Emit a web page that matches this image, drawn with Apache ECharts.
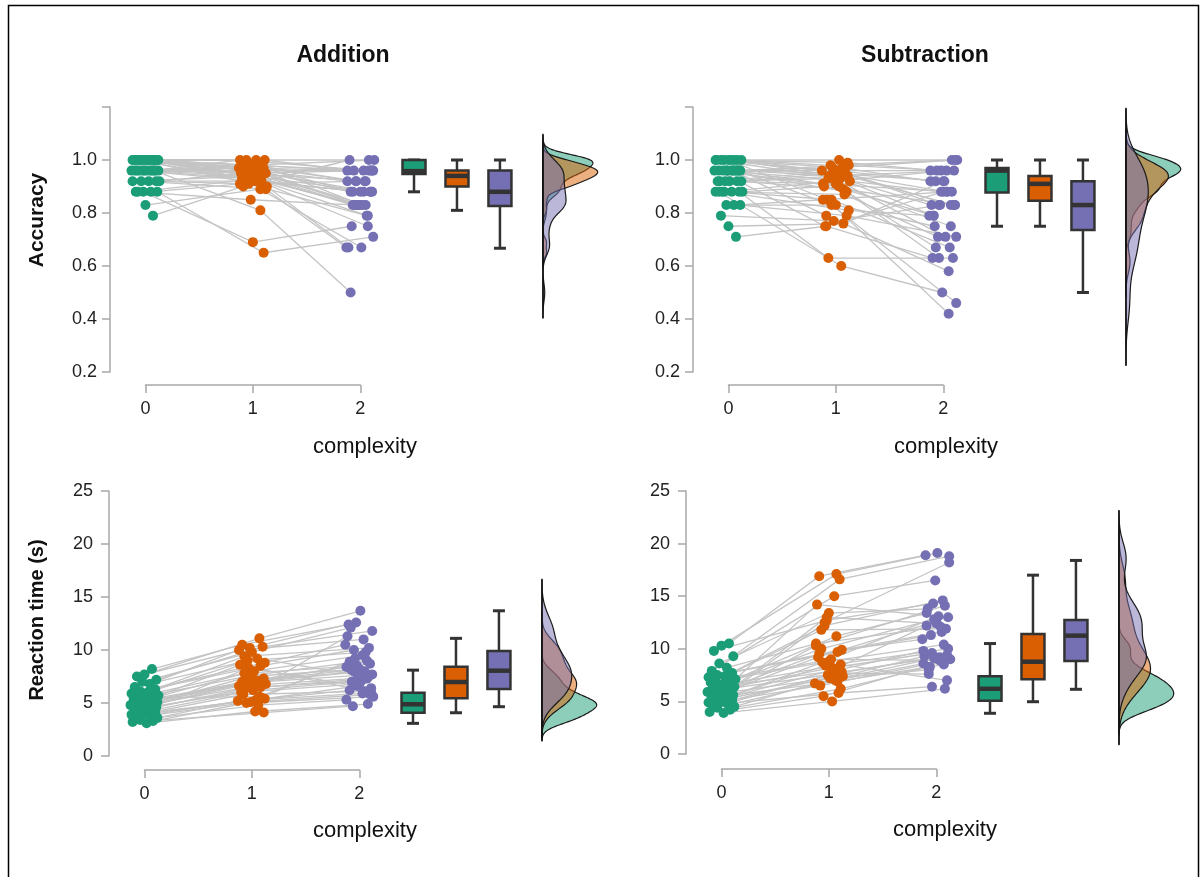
<!DOCTYPE html>
<html>
<head>
<meta charset="utf-8">
<script src="https://cdn.jsdelivr.net/npm/echarts@6/dist/echarts.min.js"></script>
<style>
  html, body { margin: 0; padding: 0; background: #fff; }
  #chart { width: 1202px; height: 877px; }
</style>
</head>
<body>
<div id="chart"></div>
<script>
const chart = echarts.init(document.getElementById('chart'));

const complexity = [0, 1, 2];
const colors = ['#1b9e77', '#d95f02', '#7570b3'];
const fills = ['rgba(27,158,119,0.5)', 'rgba(217,95,2,0.5)', 'rgba(117,112,179,0.5)'];
const boxPos = [2.5, 2.9, 3.3];
const densityBase = 3.7;
const densityWidth = 0.51;

// horizontal jitter of the dots, in x units
const jitter = [0.02, -0.11, 0.08, -0.04, 0.12, -0.07, 0.05, -0.12, 0.00, 0.10,
  -0.02, 0.07, -0.09, 0.03, 0.11, -0.05, 0.06, -0.13, 0.09, -0.01,
  0.04, -0.08, 0.12, -0.03, 0.01, -0.10, 0.08, -0.06, 0.13, -0.12,
  0.03, -0.04, 0.10, -0.09, 0.05, -0.02, 0.11, -0.07, 0.00, 0.07];

// Addition - accuracy (one entry per participant)
const addAcc0 = [1, 1, 1, 1, 1, 1, 1, 1, 1, 1, 1, 1, 1, 1, 1, 1,
  0.96, 0.96, 0.96, 0.96, 0.96, 0.96, 0.96, 0.96, 0.96, 0.96, 0.96, 0.96,
  0.92, 0.92, 0.92, 0.92, 0.92, 0.88, 0.88, 0.88, 0.88, 0.88, 0.83, 0.79];
const addAcc1 = [1.0, 1.0, 0.98, 0.98, 0.97, 0.97, 0.96, 0.96, 0.95, 0.95, 0.94, 0.94, 0.93, 0.92, 1.0, 0.90,
  1.0, 0.98, 0.98, 0.97, 0.97, 0.96, 0.96, 0.95, 0.94, 0.93, 0.81, 0.92,
  0.95, 0.94, 0.91, 0.89, 0.92, 0.93, 0.91, 0.69, 0.65, 0.85, 0.89, 0.90];
const addAcc2 = [1.0, 0.96, 1.0, 0.96, 0.96, 0.92, 0.96, 0.88, 0.92, 0.83, 0.88, 0.83, 0.88, 0.79, 0.83, 0.67,
  0.96, 0.92, 0.96, 0.88, 0.83, 0.92, 0.83, 0.88, 0.83, 0.75, 0.50, 0.88,
  0.96, 0.83, 0.79, 0.67, 0.88, 0.83, 0.92, 0.75, 0.71, 0.83, 0.67, 1.0];

// Subtraction - accuracy
const subAcc0 = [1, 1, 1, 1, 1, 1, 1, 1, 1,
  0.96, 0.96, 0.96, 0.96, 0.96, 0.96, 0.96, 0.96, 0.96, 0.96, 0.96, 0.96,
  0.92, 0.92, 0.92, 0.92, 0.92, 0.92, 0.88, 0.88, 0.88, 0.88, 0.88, 0.88, 0.88,
  0.83, 0.83, 0.83, 0.79, 0.75, 0.71];
const subAcc1 = [1.0, 0.99, 0.98, 0.97, 0.96, 0.95, 0.94, 0.93, 0.85,
  0.98, 0.97, 0.96, 0.75, 0.95, 0.94, 0.92, 0.91, 0.90, 0.83, 0.88, 0.79,
  0.96, 0.95, 0.94, 0.93, 0.91, 0.89, 0.92, 0.90, 0.87, 0.85, 0.81, 0.63, 0.60,
  0.85, 0.83, 0.79, 0.77, 0.76, 0.75];
const subAcc2 = [1.0, 0.96, 1.0, 0.92, 0.88, 0.83, 0.96, 0.79, 0.42,
  0.96, 1.0, 0.92, 0.88, 0.83, 0.71, 0.83, 0.88, 0.63, 0.46, 0.67, 0.58,
  0.96, 0.92, 0.83, 0.88, 0.75, 0.79, 0.96, 0.83, 0.71, 0.67, 0.79, 0.63, 0.50,
  0.88, 0.75, 0.71, 0.83, 0.92, 0.63];

// Addition - reaction time (s)
const addRt0 = [3.1, 3.2, 3.3, 3.4, 3.6, 3.7, 3.8, 3.9, 4.0, 4.1, 4.2, 4.3, 4.4, 4.5, 4.6, 4.7, 4.8, 4.8, 4.9, 4.9,
  5.0, 5.0, 5.1, 5.2, 5.3, 5.4, 5.5, 5.6, 5.7, 5.9, 6.0, 6.1, 6.3, 6.5, 6.8, 7.0, 7.2, 7.5, 7.7, 8.2];
const addRt1 = [4.2, 4.1, 5.0, 4.8, 5.2, 5.5, 5.1, 5.3, 5.8, 5.4, 8.3, 6.2, 6.0, 6.5, 6.4, 6.8, 6.6, 7.0, 6.9, 7.2,
  7.0, 7.1, 7.5, 7.3, 7.8, 7.6, 5.6, 8.0, 8.6, 8.5, 9.0, 8.8, 9.4, 9.2, 10.0, 9.8, 10.3, 10.2, 11.1, 10.5];
const addRt2 = [4.9, 4.7, 5.6, 5.3, 5.9, 9.2, 5.8, 6.2, 6.1, 6.6, 6.4, 7.0, 6.8, 7.3, 7.1, 11.3, 7.4, 7.9, 7.7, 8.1,
  8.0, 8.4, 8.2, 8.7, 8.5, 9.0, 8.9, 9.5, 6.0, 10.0, 9.8, 10.5, 10.2, 7.6, 11.0, 12.1, 11.8, 12.6, 13.7, 12.4];

// Subtraction - reaction time (s)
const subRt0 = [3.9, 4.0, 4.2, 4.4, 4.5, 4.7, 4.8, 4.9, 5.0, 5.1, 5.2, 5.3, 5.4, 5.5, 5.6, 5.7, 5.8, 5.9, 6.0, 6.1,
  6.2, 6.3, 6.4, 6.5, 6.6, 6.8, 6.9, 7.0, 7.1, 7.3, 7.4, 7.5, 7.7, 7.9, 8.2, 8.6, 9.3, 9.8, 10.3, 10.5];
const subRt1 = [5.0, 6.2, 5.5, 7.0, 6.7, 5.8, 7.5, 8.0, 6.5, 7.8, 8.4, 7.2, 9.2, 6.9, 8.7, 7.4, 10.3, 8.2, 12.5, 7.7,
  9.5, 7.9, 13.0, 8.5, 10.0, 8.8, 11.2, 9.0, 14.2, 9.7, 12.2, 9.9, 11.8, 15.0, 10.5, 13.4, 16.6, 12.7, 17.1, 16.9];
const subRt2 = [6.2, 8.3, 9.0, 8.6, 9.2, 6.4, 9.4, 12.2, 8.8, 9.1, 10.0, 8.0, 12.6, 8.5, 13.1, 9.3, 14.1, 9.6, 18.2, 7.6,
  11.6, 9.8, 12.4, 7.0, 12.8, 10.4, 13.4, 8.9, 13.0, 11.3, 14.6, 10.9, 11.9, 16.5, 12.1, 13.8, 18.8, 14.3, 19.1, 18.9];

// box plots: [lower whisker, Q1, median, Q3, upper whisker]
const addAccBox = [[0.88, 0.947, 0.958, 1.0, 1.0], [0.81, 0.90, 0.94, 0.96, 1.0], [0.667, 0.826, 0.88, 0.96, 1.0]];
const subAccBox = [[0.75, 0.877, 0.96, 0.97, 1.0], [0.75, 0.846, 0.91, 0.94, 1.0], [0.50, 0.736, 0.83, 0.92, 1.0]];
const addRtBox = [[3.08, 4.08, 4.88, 5.97, 8.1], [4.08, 5.44, 6.98, 8.42, 11.1], [4.65, 6.32, 8.05, 9.9, 13.7]];
const subRtBox = [[3.87, 5.07, 6.2, 7.4, 10.5], [4.97, 7.1, 8.77, 11.4, 17.0], [6.15, 8.84, 11.25, 12.74, 18.4]];

const panels = [
  { values: [addAcc0, addAcc1, addAcc2], box: addAccBox, left: 110, top: 107, height: 265, min: 0.2, max: 1.2, step: 0.2, axisY: 385, margin: 13 },
  { values: [subAcc0, subAcc1, subAcc2], box: subAccBox, left: 693, top: 107, height: 265, min: 0.2, max: 1.2, step: 0.2, axisY: 385, margin: 13 },
  { values: [addRt0, addRt1, addRt2], box: addRtBox, left: 109, top: 491, height: 265, min: 0, max: 25, step: 5, axisY: 770, margin: 16 },
  { values: [subRt0, subRt1, subRt2], box: subRtBox, left: 686, top: 491, height: 263, min: 0, max: 25, step: 5, axisY: 769, margin: 16 }
];

const xMin = -0.33, xMax = 4.25, gridWidth = 492;
const unit = gridWidth / (xMax - xMin);
const jit = (i, c) => jitter[(i + 13 * c) % jitter.length];

// kernel density like R's density(): gaussian kernel, bw.nrd0, cut = 3
function quantile(s, p) {
  const h = (s.length - 1) * p, lo = Math.floor(h);
  return s[lo] + (h - lo) * (s[Math.min(lo + 1, s.length - 1)] - s[lo]);
}
function kde(vals) {
  const s = vals.slice().sort((a, b) => a - b), n = s.length;
  const mean = s.reduce((a, b) => a + b, 0) / n;
  const sd = Math.sqrt(s.reduce((a, b) => a + (b - mean) * (b - mean), 0) / (n - 1));
  let lo = Math.min(sd, (quantile(s, 0.75) - quantile(s, 0.25)) / 1.34);
  if (!lo) lo = sd || 1;
  const bw = 0.9 * lo * Math.pow(n, -0.2);
  const from = s[0] - 3 * bw, to = s[n - 1] + 3 * bw, steps = 160;
  const pts = [];
  for (let k = 0; k <= steps; k++) {
    const t = from + (to - from) * k / steps;
    let d = 0;
    s.forEach(v => { const z = (t - v) / bw; d += Math.exp(-0.5 * z * z); });
    pts.push([t, d / (n * bw * Math.sqrt(2 * Math.PI))]);
  }
  return pts;
}

const axisGray = '#a8a8a8';
const fontFamily = 'Liberation Sans, Arial, sans-serif';
const labelStyle = { color: '#222', fontSize: 18, fontFamily };

const grid = [], xAxis = [], yAxis = [], series = [];

panels.forEach((p, k) => {
  const gi = 2 * k;
  grid.push({ left: p.left, top: p.top, width: gridWidth, height: p.height });
  grid.push({ left: p.left - xMin * unit, top: p.axisY - 1, width: 2 * unit, height: 1 });

  xAxis.push({ gridIndex: gi, type: 'value', min: xMin, max: xMax, show: false });
  xAxis.push({
    gridIndex: gi + 1, type: 'value', min: 0, max: 2, interval: 1,
    axisLine: { show: true, onZero: false, lineStyle: { color: axisGray, width: 1.5 } },
    axisTick: { show: true, length: 8, lineStyle: { color: axisGray, width: 1.5 } },
    axisLabel: Object.assign({ margin: 15 }, labelStyle),
    splitLine: { show: false }
  });
  yAxis.push({
    gridIndex: gi, type: 'value', min: p.min, max: p.max, interval: p.step,
    axisLine: { show: true, onZero: false, lineStyle: { color: axisGray, width: 1.5 } },
    axisTick: { show: true, length: 8, lineStyle: { color: axisGray, width: 1.5 } },
    axisLabel: Object.assign({
      margin: p.margin,
      formatter: v => (p.step < 1 ? (v > 1.1 ? '' : v.toFixed(1)) : String(v))
    }, labelStyle),
    splitLine: { show: false }
  });
  yAxis.push({ gridIndex: gi + 1, type: 'value', min: 0, max: 1, show: false });

  const n = p.values[0].length;

  // gray lines linking each participant across complexity levels
  const links = [];
  for (let i = 0; i < n; i++) {
    links.push({ coords: complexity.map(c => [c + jit(i, c), p.values[c][i]]) });
  }
  series.push({
    type: 'lines', coordinateSystem: 'cartesian2d', xAxisIndex: gi, yAxisIndex: gi,
    polyline: true, silent: true, z: 1, data: links,
    lineStyle: { color: '#c4c4c4', width: 1.3, opacity: 1 }
  });

  // dots
  complexity.forEach(c => {
    series.push({
      type: 'scatter', xAxisIndex: gi, yAxisIndex: gi, z: 3, symbolSize: 10,
      itemStyle: { color: colors[c], opacity: 1 },
      data: p.values[c].map((v, i) => [c + jit(i, c), v])
    });
  });

  // box plots
  series.push({
    type: 'custom', xAxisIndex: gi, yAxisIndex: gi, z: 2,
    encode: { x: 0, y: [1, 2, 3, 4, 5] },
    data: p.box.map((b, c) => [boxPos[c]].concat(b, [c])),
    renderItem: (params, api) => {
      const x = api.value(0);
      const py = v => api.coord([x, v])[1];
      const cx = api.coord([x, api.value(1)])[0];
      const yMin = py(api.value(1)), yQ1 = py(api.value(2)), yMed = py(api.value(3));
      const yQ3 = py(api.value(4)), yMax = py(api.value(5));
      const dark = '#333333', hw = 11.5, cw = 6;
      const seg = (x1, y1, x2, y2, w) => ({ type: 'line', shape: { x1, y1, x2, y2 }, style: { stroke: dark, lineWidth: w } });
      return {
        type: 'group', children: [
          seg(cx, yMin, cx, yQ1, 2.5), seg(cx, yQ3, cx, yMax, 2.5),
          seg(cx - cw, yMin, cx + cw, yMin, 3), seg(cx - cw, yMax, cx + cw, yMax, 3),
          { type: 'rect', shape: { x: cx - hw, y: yQ3, width: 2 * hw, height: yQ1 - yQ3 },
            style: { fill: colors[api.value(6)], stroke: dark, lineWidth: 2.5 } },
          seg(cx - hw, yMed, cx + hw, yMed, 4.5)
        ]
      };
    }
  });

  // densities
  const curves = p.values.map(kde);
  let maxD = 0, lowV = Infinity, highV = -Infinity;
  curves.forEach(cv => cv.forEach(([v, d]) => {
    maxD = Math.max(maxD, d); lowV = Math.min(lowV, v); highV = Math.max(highV, v);
  }));
  series.push({
    type: 'custom', xAxisIndex: gi, yAxisIndex: gi, z: 2,
    data: curves.map((cv, c) => [densityBase, p.min, c]),
    renderItem: (params, api) => {
      const cv = curves[params.dataIndex];
      const pts = [api.coord([densityBase, cv[0][0]])];
      cv.forEach(([v, d]) => pts.push(api.coord([densityBase + d / maxD * densityWidth, v])));
      pts.push(api.coord([densityBase, cv[cv.length - 1][0]]));
      return { type: 'polygon', shape: { points: pts }, style: { fill: fills[params.dataIndex], stroke: '#1a1a1a', lineWidth: 1.2 } };
    }
  });
  series.push({
    type: 'lines', coordinateSystem: 'cartesian2d', xAxisIndex: gi, yAxisIndex: gi,
    silent: true, z: 4, data: [{ coords: [[densityBase, lowV], [densityBase, highV]] }],
    lineStyle: { color: '#111', width: 1.5, opacity: 1 }
  });
});

const txt = (text, x, y, size, weight, rot) => ({
  type: 'text', x, y, rotation: rot || 0,
  style: { text, fill: '#111', font: `${weight} ${size}px ${fontFamily}`, align: 'center', verticalAlign: 'middle', textAlign: 'center', textVerticalAlign: 'middle' }
});

const option = {
  animation: false,
  grid, xAxis, yAxis, series,
  graphic: [
    { type: 'rect', shape: { x: 8.5, y: 5.5, width: 1190, height: 880 }, style: { fill: null, stroke: '#000', lineWidth: 1.5 } },
    txt('Addition', 343, 56, 23, 'bold'),
    txt('Subtraction', 925, 56, 23, 'bold'),
    txt('Accuracy', 37, 220, 21, 'bold', Math.PI / 2),
    txt('Reaction time (s)', 37, 620, 20, 'bold', Math.PI / 2),
    txt('complexity', 365, 447, 22, 'normal'),
    txt('complexity', 946, 447, 22, 'normal'),
    txt('complexity', 365, 831, 22, 'normal'),
    txt('complexity', 945, 830, 22, 'normal')
  ]
};

chart.setOption(option);
</script>
</body>
</html>
